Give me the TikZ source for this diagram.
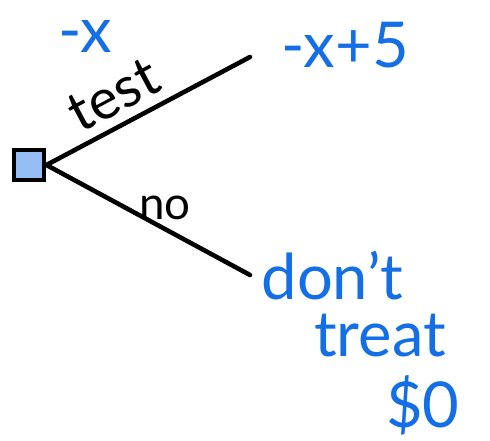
\documentclass[tikz,border=0pt]{standalone}
\usepackage{fontspec}
\setmainfont{Lato}
\usetikzlibrary{positioning}
\definecolor{ink}{RGB}{20,110,230}
\definecolor{boxfill}{RGB}{150,190,245}
\tikzset{
  choice/.style  = {rectangle, draw, line width=2.8pt, fill=boxfill, minimum size=6mm, inner sep=0},
  branch/.style  = {line width=2.6pt, line cap=round},
  blabel/.style  = {font=\fontsize{26}{28}\selectfont, inner sep=1pt},
  payoff/.style  = {text=ink, font=\fontsize{36}{38}\selectfont, inner sep=0}
}
\begin{document}
\begin{tikzpicture}
  \useasboundingbox (0,0) rectangle (9.8,8.82);

  \node[choice] (D) at (0.58,5.52) {};
  \coordinate (up) at (5.0,7.68);
  \coordinate (dn) at (5.0,3.32);

  % ---- rami ----
  \draw[branch] (D.east) -- (up) node[blabel, font=\fontsize{32}{34}\selectfont, pos=0.4, above=4pt, sloped] (lt) {test};
  \draw[branch] (D.east) -- (dn);
  \node[blabel] (ln) at (3.3,4.66) {no};

  % ---- esiti ----
  \node[payoff] (cost) at (1.7,8.1) {-x};
  \node[payoff] (wt)   at (6.9,7.92) {-x+5};
  \node[payoff] (dt)   at (6.65,3.3) {don't};
  \node[payoff] (tr)   at (7.6,2.1) {treat};
  \node[payoff] (zero) at (8.46,0.72) {\$0};

\end{tikzpicture}
\end{document}
